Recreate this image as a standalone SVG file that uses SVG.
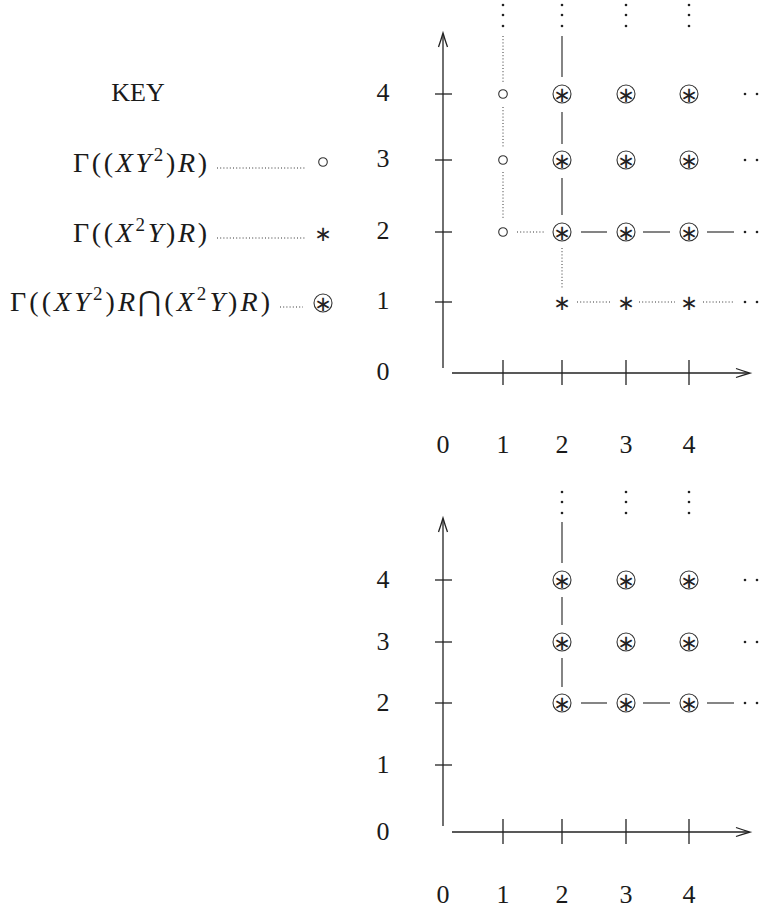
<svg xmlns="http://www.w3.org/2000/svg" width="767" height="909" viewBox="0 0 767 909">
<style>
.t{font-family:"Liberation Serif","DejaVu Serif",serif;font-size:26px;fill:#1a1a1a}
.f{font-size:28px}
.m{text-anchor:middle}
.e{text-anchor:end}
.i{font-style:italic}
.ax{stroke:#222;stroke-width:1.3;fill:none}
.sol{stroke:#333;stroke-width:1.2;fill:none}
.dt{stroke:#333;stroke-width:1;stroke-dasharray:1 2.2;fill:none}
.oc{fill:none;stroke:#333;stroke-width:1.1}
.ast{font-family:"DejaVu Sans",sans-serif;font-size:21px;text-anchor:middle;fill:#222}
.pt{fill:#222}
</style>
<defs>
<g id="cast"><circle class="oc" cx="0" cy="0" r="9"/><text class="ast" x="0" y="7.5">∗</text></g>
<g id="ast"><text class="ast" x="0" y="7.5">∗</text></g>
<g id="oo"><circle class="oc" cx="0" cy="0" r="4.3"/></g>
<g id="ell"><circle class="pt" cx="0" cy="0" r="1.3"/><circle class="pt" cx="12" cy="0" r="1.3"/></g>
<g id="vell"><circle class="pt" cx="0" cy="0" r="1.3"/><circle class="pt" cx="0" cy="10" r="1.3"/><circle class="pt" cx="0" cy="21" r="1.3"/></g>
</defs>

<g id="key">
<text class="t m" x="138" y="101">KEY</text>
<g id="key-xy2">
<text class="t f" x="73" y="172" textLength="134" lengthAdjust="spacing">Γ((<tspan class="i">XY</tspan><tspan font-size="19" dy="-11">2</tspan><tspan dy="11">)</tspan><tspan class="i">R</tspan>)</text>
<line class="dt" x1="217" y1="168" x2="306" y2="168"/>
<use href="#oo" x="323" y="162"/>
</g>
<g id="key-x2y">
<text class="t f" x="73" y="242" textLength="134" lengthAdjust="spacing">Γ((<tspan class="i">X</tspan><tspan font-size="19" dy="-11">2</tspan><tspan class="i" dy="11">Y</tspan>)<tspan class="i">R</tspan>)</text>
<line class="dt" x1="217" y1="238" x2="306" y2="238"/>
<use href="#ast" x="323" y="233"/>
</g>
<g id="key-both">
<text class="t f" x="10" y="311" textLength="260" lengthAdjust="spacing">Γ((<tspan class="i">XY</tspan><tspan font-size="19" dy="-11">2</tspan><tspan dy="11">)</tspan><tspan class="i">R</tspan>⋂(<tspan class="i">X</tspan><tspan font-size="19" dy="-11">2</tspan><tspan class="i" dy="11">Y</tspan>)<tspan class="i">R</tspan>)</text>
<line class="dt" x1="280" y1="307" x2="303" y2="307"/>
<use href="#cast" x="323" y="303"/>
</g>
</g>

<g id="graph1">
<g id="axes1">
<line class="ax" x1="443" y1="34" x2="443" y2="368"/>
<path class="ax" d="M438.5,47 Q441,40 443,33 Q445,40 447.5,47"/>
<line class="ax" x1="452" y1="373" x2="749" y2="373"/>
<path class="ax" d="M736,368.5 Q743,371 750,373 Q743,375 736,377.5"/>
<line class="ax" x1="435" y1="94" x2="452" y2="94"/>
<line class="ax" x1="435" y1="160" x2="452" y2="160"/>
<line class="ax" x1="435" y1="232" x2="452" y2="232"/>
<line class="ax" x1="435" y1="302" x2="452" y2="302"/>
<line class="ax" x1="503" y1="360" x2="503" y2="385"/>
<line class="ax" x1="562" y1="360" x2="562" y2="385"/>
<line class="ax" x1="626" y1="360" x2="626" y2="385"/>
<line class="ax" x1="689" y1="360" x2="689" y2="385"/>
<text class="t m" x="383" y="101">4</text>
<text class="t m" x="383" y="167">3</text>
<text class="t m" x="383" y="239">2</text>
<text class="t m" x="383" y="309">1</text>
<text class="t m" x="383" y="380">0</text>
<text class="t m" x="443" y="453">0</text>
<text class="t m" x="503" y="453">1</text>
<text class="t m" x="562" y="453">2</text>
<text class="t m" x="626" y="453">3</text>
<text class="t m" x="689" y="453">4</text>
</g>
<g id="connectors1">
<line class="dt" x1="503" y1="36" x2="503" y2="82"/>
<line class="dt" x1="503" y1="107" x2="503" y2="148"/>
<line class="dt" x1="503" y1="172" x2="503" y2="220"/>
<line class="sol" x1="562" y1="36" x2="562" y2="77"/>
<line class="sol" x1="562" y1="112" x2="562" y2="144"/>
<line class="sol" x1="562" y1="178" x2="562" y2="215"/>
<line class="dt" x1="517" y1="232" x2="544" y2="232"/>
<line class="sol" x1="581" y1="232" x2="607" y2="232"/>
<line class="sol" x1="643" y1="232" x2="670" y2="232"/>
<line class="sol" x1="707" y1="232" x2="734" y2="232"/>
<line class="dt" x1="562" y1="248" x2="562" y2="289"/>
<line class="dt" x1="577" y1="302" x2="612" y2="302"/>
<line class="dt" x1="639" y1="302" x2="675" y2="302"/>
<line class="dt" x1="703" y1="302" x2="734" y2="302"/>
</g>
<g id="nodes1">
<use href="#vell" x="503" y="5"/><use href="#vell" x="562" y="5"/><use href="#vell" x="626" y="5"/><use href="#vell" x="689" y="5"/>
<use href="#oo" x="503" y="94"/><use href="#oo" x="503" y="160"/><use href="#oo" x="503" y="232"/>
<use href="#cast" x="562" y="94"/><use href="#cast" x="626" y="94"/><use href="#cast" x="689" y="94"/>
<use href="#cast" x="562" y="160"/><use href="#cast" x="626" y="160"/><use href="#cast" x="689" y="160"/>
<use href="#cast" x="562" y="232"/><use href="#cast" x="626" y="232"/><use href="#cast" x="689" y="232"/>
<use href="#ast" x="562" y="302"/><use href="#ast" x="626" y="302"/><use href="#ast" x="689" y="302"/>
<use href="#ell" x="745" y="94"/><use href="#ell" x="745" y="160"/><use href="#ell" x="745" y="232"/><use href="#ell" x="745" y="302"/>
</g>
</g>

<g id="graph2">
<g id="axes2">
<line class="ax" x1="443" y1="519" x2="443" y2="826"/>
<path class="ax" d="M438.5,532 Q441,525 443,518 Q445,525 447.5,532"/>
<line class="ax" x1="452" y1="832" x2="749" y2="832"/>
<path class="ax" d="M736,827.5 Q743,830 750,832 Q743,834 736,836.5"/>
<line class="ax" x1="435" y1="580" x2="452" y2="580"/>
<line class="ax" x1="435" y1="642" x2="452" y2="642"/>
<line class="ax" x1="435" y1="703" x2="452" y2="703"/>
<line class="ax" x1="435" y1="765" x2="452" y2="765"/>
<line class="ax" x1="503" y1="819" x2="503" y2="844"/>
<line class="ax" x1="562" y1="819" x2="562" y2="844"/>
<line class="ax" x1="626" y1="819" x2="626" y2="844"/>
<line class="ax" x1="689" y1="819" x2="689" y2="844"/>
<text class="t m" x="383" y="588">4</text>
<text class="t m" x="383" y="650">3</text>
<text class="t m" x="383" y="711">2</text>
<text class="t m" x="383" y="773">1</text>
<text class="t m" x="383" y="840">0</text>
<text class="t m" x="443" y="903">0</text>
<text class="t m" x="503" y="903">1</text>
<text class="t m" x="562" y="903">2</text>
<text class="t m" x="626" y="903">3</text>
<text class="t m" x="689" y="903">4</text>
</g>
<g id="connectors2">
<line class="sol" x1="562" y1="522" x2="562" y2="563"/>
<line class="sol" x1="562" y1="597" x2="562" y2="625"/>
<line class="sol" x1="562" y1="658" x2="562" y2="687"/>
<line class="sol" x1="581" y1="703" x2="607" y2="703"/>
<line class="sol" x1="643" y1="703" x2="670" y2="703"/>
<line class="sol" x1="707" y1="703" x2="734" y2="703"/>
</g>
<g id="nodes2">
<use href="#vell" x="562" y="492"/><use href="#vell" x="626" y="492"/><use href="#vell" x="689" y="492"/>
<use href="#cast" x="562" y="580"/><use href="#cast" x="626" y="580"/><use href="#cast" x="689" y="580"/>
<use href="#cast" x="562" y="642"/><use href="#cast" x="626" y="642"/><use href="#cast" x="689" y="642"/>
<use href="#cast" x="562" y="703"/><use href="#cast" x="626" y="703"/><use href="#cast" x="689" y="703"/>
<use href="#ell" x="745" y="580"/><use href="#ell" x="745" y="642"/><use href="#ell" x="745" y="703"/>
</g>
</g>
</svg>
